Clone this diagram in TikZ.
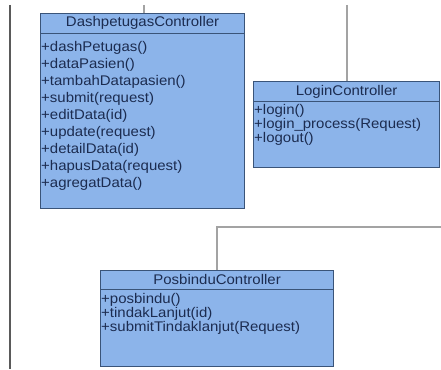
\documentclass[tikz,border=0pt]{standalone}
\usepackage{fontspec}
\setmainfont{Liberation Sans}
\usepackage{graphicx}
\definecolor{boxfill}{HTML}{8CB4EA}
\definecolor{boxedge}{HTML}{3A5479}
\definecolor{txt}{HTML}{1C2C50}
\definecolor{rail}{HTML}{5A5A5A}
\definecolor{wire}{HTML}{A3A3A3}
% slightly widened sans text
\newcommand{\widetxt}[1]{\scalebox{1.07}[1]{#1}}
\tikzset{
  classbox/.style={draw=boxedge, fill=boxfill, line width=1.2pt, inner sep=0pt, anchor=north west},
  ctitle/.style={text=txt, inner sep=0pt, font=\fontsize{14}{15}\selectfont},
  ops/.style={text=txt, inner sep=0pt, anchor=north west, align=left},
  divider/.style={draw=boxedge, line width=1pt},
  wirelink/.style={draw=wire, line width=1.5pt},
  raillink/.style={draw=rail, line width=2pt}
}
\begin{document}
\begin{tikzpicture}[x=1pt, y=-1pt]
\useasboundingbox (0,0) rectangle (441,369);

% left rail and free ends of connectors
\coordinate (railTop) at (10,5);
\coordinate (railBot) at (10,369);
\coordinate (dashTop) at (144,5);
\coordinate (loginTop) at (347,5);
\coordinate (posEnd) at (441,227);
\draw[raillink] (railTop) -- (railBot);

% DashpetugasController
\node[classbox, minimum width=204pt, minimum height=195pt] (dash) at (40,13) {};
\node[ctitle] (dashTitle) at ([shift={(0,10)}]dash.north) {\widetxt{DashpetugasController}};
\draw[divider] ([yshift=-20.5pt]dash.north west) -- ([yshift=-20.5pt]dash.north east);
\node[ops, font=\fontsize{14}{17}\selectfont] (dashOps) at ([shift={(1,28)}]dash.north west)
  {\widetxt{+dashPetugas()}\\ \widetxt{+dataPasien()}\\ \widetxt{+tambahDatapasien()}\\ \widetxt{+submit(request)}\\
   \widetxt{+editData(id)}\\ \widetxt{+update(request)}\\ \widetxt{+detailData(id)}\\ \widetxt{+hapusData(request)}\\
   \widetxt{+agregatData()}};

% LoginController
\node[classbox, minimum width=186pt, minimum height=86pt] (login) at (253,81) {};
\node[ctitle] (loginTitle) at ([shift={(0,11)}]login.north) {\widetxt{LoginController}};
\draw[divider] ([yshift=-20pt]login.north west) -- ([yshift=-20pt]login.north east);
\node[ops, font=\fontsize{14}{12}\selectfont] (loginOps) at ([shift={(1,23)}]login.north west)
  {\widetxt{+login()}\\ \widetxt{+login\_process(Request)}\\ \widetxt{+logout()}};

% PosbinduController
\node[classbox, minimum width=233pt, minimum height=96pt] (pos) at (100,270) {};
\node[ctitle] (posTitle) at ([shift={(0,9.5)}]pos.north) {\widetxt{PosbinduController}};
\draw[divider] ([yshift=-19pt]pos.north west) -- ([yshift=-19pt]pos.north east);
\node[ops, font=\fontsize{14}{12.5}\selectfont] (posOps) at ([shift={(1,23)}]pos.north west)
  {\widetxt{+posbindu()}\\ \widetxt{+tindakLanjut(id)}\\ \widetxt{+submitTindaklanjut(Request)}};

% connectors
\draw[wirelink] (dashTop) -- (dashTop |- dash.north);
\draw[wirelink] (loginTop) -- (loginTop |- login.north);
\draw[wirelink] (posEnd) -| (pos.north);
\end{tikzpicture}
\end{document}
